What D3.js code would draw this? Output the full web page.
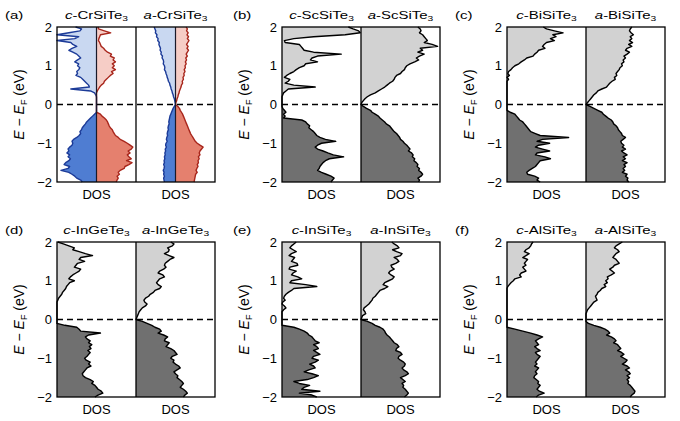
<!DOCTYPE html>
<html><head><meta charset="utf-8">
<script src="https://cdn.jsdelivr.net/npm/d3@7/dist/d3.min.js"></script>
<style>body{margin:0;background:#fff}</style>
</head><body><svg id="c" width="680" height="421"></svg>
<script>
// Energy grid (eV), top to bottom
const energies = [2,1.95,1.9,1.85,1.8,1.75,1.7,1.65,1.6,1.55,1.5,1.45,1.4,1.35,1.3,1.25,1.2,1.15,1.1,1.05,
 1,0.95,0.9,0.85,0.8,0.75,0.7,0.65,0.6,0.55,0.5,0.45,0.4,0.35,0.3,0.25,0.2,0.15,0.1,0.05,
 0,-0.05,-0.1,-0.15,-0.2,-0.25,-0.3,-0.35,-0.4,-0.45,-0.5,-0.55,-0.6,-0.65,-0.7,-0.75,-0.8,-0.85,-0.9,-0.95,
 -1,-1.05,-1.1,-1.15,-1.2,-1.25,-1.3,-1.35,-1.4,-1.45,-1.5,-1.55,-1.6,-1.65,-1.7,-1.75,-1.8,-1.85,-1.9,-1.95,-2];
const panelLabels = ["(a)","(b)","(c)","(d)","(e)","(f)"];
const materials = ["CrSiTe","ScSiTe","BiSiTe","InGeTe","InSiTe","AlSiTe"];
const phases = ["c","a"];
const yTicks = [2,1,0,-1,-2];

// DOS (percent of half-panel width)
const crUpC = [53,38,42,70,100,45,55,100,65,60, 50,62,70,60,50,45,40,48,55,45, 48,42,45,50,48,52,40,35,30,25, 20,18,65,15,5,2,0,0,0,0, 0,0,0,0,0,5,10,15,20,25, 28,32,36,38,42,40,44,50,58,62, 60,62,68,72,70,75,68,72,66,70, 78,82,68,72,90,70,62,55,50,40, 36];
const crDnC = [4,5,20,36,10,8,6,5,8,10, 12,18,22,28,38,35,45,42,48,40, 45,40,48,38,42,35,30,25,20,18, 12,8,5,2,0,0,0,0,0,0, 0,0,0,0,0,10,14,20,25,28, 30,32,35,40,42,45,48,55,60,70, 78,85,92,88,80,85,78,82,88,76, 90,82,72,70,60,55,58,52,55,52, 50];
const crUpA = [54,52,50,51,47,48,44,45,41,42, 40,38,39,36,37,33,34,31,30,31, 28,27,28,25,24,22,21,19,18,15, 14,12,11,9,8,6,5,3,2,1, 0,3,6,8,10,12,14,15,16,17, 16,18,19,18,20,21,20,22,23,21, 24,25,23,26,25,27,26,28,27,29, 28,30,28,29,31,29,30,28,30,29, 28];
const crDnA = [27,30,28,32,29,33,30,34,31,28, 32,29,33,30,27,30,26,28,25,27, 24,25,22,24,21,22,19,20,17,18, 15,14,12,10,9,7,6,4,3,1, 0,6,10,12,15,18,20,22,24,26, 28,30,32,34,36,38,41,44,47,50, 55,62,70,66,62,60,62,58,60,57, 58,55,57,54,52,55,51,50,49,48, 47];
const scC = [84,90,97,99,80,40,15,3,4,22, 24,26,28,40,75,45,38,36,45,30, 28,22,18,15,10,6,3,10,8,4, 15,42,8,5,2,1,0,0,0,0, 0,0,1,3,5,2,4,2,25,30, 32,35,34,37,40,42,44,48,55,68, 50,45,42,45,52,58,65,78,60,55, 52,50,48,47,45,50,56,62,66,64, 62];
const scA = [72,75,76,74,78,80,82,84,80,90, 97,75,78,72,80,74,70,73,68,62, 58,56,55,52,50,45,43,42,40,36, 33,30,26,22,18,12,8,5,3,1, 0,3,7,12,14,18,22,24,27,30, 32,36,38,40,42,45,47,49,50,53, 55,58,60,62,60,64,66,65,68,67, 70,72,71,74,73,76,78,76,72,74, 73];
const biC = [46,50,60,71,58,62,55,60,50,47, 45,48,40,38,35,33,25,22,18,15, 10,7,5,2,1,3,0,2,0,0, 0,0,0,0,0,0,0,0,0,0, 0,0,0,0,4,10,12,14,16,20, 22,24,26,28,30,36,42,78,45,38, 54,40,36,45,54,38,36,48,55,42, 40,38,36,32,28,25,26,35,40,38, 42];
const biA = [58,56,55,57,60,56,58,55,59,54, 58,52,50,55,52,48,50,47,48,45, 46,43,42,40,38,39,36,37,33,30, 28,26,20,15,13,10,8,6,4,2, 0,5,10,15,20,22,25,28,32,34, 35,38,40,41,43,45,46,50,47,44, 45,48,46,50,45,48,52,47,50,46, 52,48,50,47,49,46,52,50,53,52, 54];
const ingeC = [1,8,15,22,20,28,36,45,30,28, 35,26,24,22,30,28,24,20,17,15, 22,16,14,12,11,9,7,6,4,2, 1,0,0,0,0,0,0,0,0,0, 0,0,0,10,25,28,30,55,40,36, 38,42,40,44,41,43,39,42,40,38, 35,37,42,40,43,38,36,34,32,33, 36,42,46,44,48,50,52,56,58,52, 48];
const ingeA = [44,48,46,40,42,41,36,42,48,43, 40,37,36,38,35,30,28,34,36,30, 28,26,28,32,30,24,22,18,16,12, 10,11,14,12,8,6,4,3,2,1, 0,8,14,20,24,30,32,28,35,40, 37,36,42,40,38,44,48,50,52,46, 44,48,47,50,54,56,52,48,50,53, 52,55,58,60,58,56,60,63,65,62, 60];
const insiC = [18,15,12,10,14,18,12,9,16,14, 12,19,20,10,9,18,14,12,20,25, 12,10,30,44,15,12,8,5,3,2, 4,1,0,3,5,2,0,0,0,0, 0,0,0,0,15,22,28,32,34,38, 40,42,47,40,44,46,40,44,48,40, 38,46,42,35,40,42,34,28,38,46, 40,32,15,22,35,28,25,48,22,38, 44];
const insiA = [39,42,46,48,40,45,52,50,42,46, 48,44,38,39,42,37,35,38,42,40, 35,30,28,34,30,24,22,20,18,15, 14,12,10,7,4,3,5,6,2,1, 0,8,14,18,24,28,30,31,33,36, 38,40,42,46,48,45,44,50,52,48, 47,50,54,56,55,52,54,58,60,56, 50,53,56,52,54,53,56,58,60,58, 55];
const alC = [33,31,30,28,24,22,28,24,20,26, 24,22,24,20,22,24,18,16,18,10, 8,5,3,1,0,0,0,0,0,0, 0,0,0,0,0,0,0,0,0,0, 0,0,0,0,0,10,20,30,38,45, 40,36,38,40,35,38,42,36,38,42, 40,38,36,38,35,40,38,36,38,35, 34,37,40,39,42,40,38,41,47,40, 37];
const alA = [46,42,38,36,40,42,38,36,34,38, 40,42,36,34,30,33,36,32,27,28, 25,27,23,25,20,18,15,14,12,13, 14,10,8,6,4,2,1,0,0,0, 0,0,3,10,18,24,28,30,26,32, 36,38,35,40,42,44,40,45,48,44, 48,52,50,46,52,55,50,54,56,52, 55,52,54,53,56,58,60,62,61,58, 56];

const greySeries = [null,[scC,scA],[biC,biA],[ingeC,ingeA],[insiC,insiA],[alC,alA]];
const spinSeries = [[crUpC,crDnC],[crUpA,crDnA]];

const FONT = 'Arial, "Liberation Sans", sans-serif';
const svg = d3.select("#c").attr("font-family", FONT);
const defs = svg.append("defs");
const colX = [57, 282, 507], rowY = [27, 242], W = 158, H = 155, half = W/2;
const labelX = [5, 233, 455];

panelLabels.forEach((lab, i) => {
  const col = i % 3, row = Math.floor(i / 3);
  const x0 = colX[col], y0 = rowY[row];
  const y = d3.scaleLinear().domain([-2, 2]).range([y0 + H, y0]);
  const yz = y(0);
  defs.append("clipPath").attr("id", "ct" + i).append("rect")
    .attr("x", x0).attr("y", y0).attr("width", W).attr("height", yz - y0);
  defs.append("clipPath").attr("id", "cb" + i).append("rect")
    .attr("x", x0).attr("y", yz).attr("width", W).attr("height", y0 + H - yz);
  const fillG = svg.append("g"), lineG = svg.append("g");

  function draw(arr, xs, fT, fB, stroke) {
    const data = energies.map((e, k) => [e, arr[k]]);
    const area = d3.area().y(d => y(d[0])).x0(xs(0)).x1(d => xs(d[1]));
    fillG.append("path").datum(data).attr("d", area).attr("fill", fT).attr("clip-path", `url(#ct${i})`);
    fillG.append("path").datum(data).attr("d", area).attr("fill", fB).attr("clip-path", `url(#cb${i})`);
    lineG.append("path").datum(data)
      .attr("d", d3.line().x(d => xs(d[1])).y(d => y(d[0])))
      .attr("fill", "none").attr("stroke", stroke).attr("stroke-width", 1.4).attr("stroke-linejoin", "round");
  }

  if (i === 0) {
    spinSeries.forEach(([up, dn], h) => {
      const cx = x0 + h * half + half / 2;
      const xu = d3.scaleLinear().domain([0, 100]).range([cx, x0 + h * half]);
      const xd = d3.scaleLinear().domain([0, 100]).range([cx, x0 + (h + 1) * half]);
      draw(up, xu, "#c9d8f1", "#4f7dd2", "#1c3b98");
      draw(dn, xd, "#f6cdc6", "#e5806e", "#a8261c");
      svg.append("line").attr("x1", cx).attr("x2", cx).attr("y1", y0).attr("y2", y0 + H)
        .attr("stroke", "#1a1a2a").attr("stroke-width", 1.2);
    });
  } else {
    greySeries[i].forEach((arr, h) => {
      const xs = d3.scaleLinear().domain([0, 100]).range([x0 + h * half, x0 + (h + 1) * half]);
      draw(arr, xs, "#d2d2d2", "#707070", "#000");
    });
  }

  // zero line
  svg.append("line").attr("x1", x0).attr("x2", x0 + W).attr("y1", yz).attr("y2", yz)
    .attr("stroke", "#000").attr("stroke-width", 1.5).attr("stroke-dasharray", "6,4");
  // divider + frame
  svg.append("line").attr("x1", x0 + half).attr("x2", x0 + half).attr("y1", y0).attr("y2", y0 + H)
    .attr("stroke", "#000").attr("stroke-width", 1.3);
  svg.append("rect").attr("x", x0).attr("y", y0).attr("width", W).attr("height", H)
    .attr("fill", "none").attr("stroke", "#000").attr("stroke-width", 1.3);

  // axis
  const ax = svg.append("g").attr("transform", `translate(${x0},0)`)
    .call(d3.axisLeft(y).tickValues(yTicks).tickSize(0).tickPadding(5)
      .tickFormat(d => d < 0 ? "\u2212" + (-d) : String(d)));
  ax.select(".domain").remove();
  ax.selectAll("text").attr("font-size", 13).attr("font-family", FONT).attr("fill", "#000");

  // y label
  const yl = svg.append("text").attr("transform", `translate(${x0 - 33.5},${y0 + H / 2}) rotate(-90)`)
    .attr("text-anchor", "middle").attr("font-size", 14);
  yl.append("tspan").attr("font-style", "italic").text("E");
  yl.append("tspan").text(" \u2212 ");
  yl.append("tspan").attr("font-style", "italic").text("E");
  yl.append("tspan").attr("font-size", 9).attr("dy", 3).text("F");
  yl.append("tspan").attr("dy", -3).text(" (eV)");

  // panel label
  svg.append("text").attr("transform", `translate(${labelX[col]},${y0 - 8.5}) scale(1.36,1)`)
    .attr("font-size", 11).text(lab);

  // titles and DOS labels
  phases.forEach((ph, h) => {
    const cx = x0 + h * half + half / 2;
    const t = svg.append("text").attr("transform", `translate(${cx},${y0 - 8.5}) scale(1.36,1)`)
      .attr("text-anchor", "middle").attr("font-size", 11);
    t.append("tspan").attr("font-style", "italic").text(ph);
    t.append("tspan").text("-" + materials[i]);
    t.append("tspan").attr("font-size", 7.5).attr("dy", 2.5).text("3");
    svg.append("text").attr("x", cx).attr("y", y0 + H + 16.5).attr("text-anchor", "middle")
      .attr("font-size", 13).text("DOS");
  });
});
</script></body></html>
